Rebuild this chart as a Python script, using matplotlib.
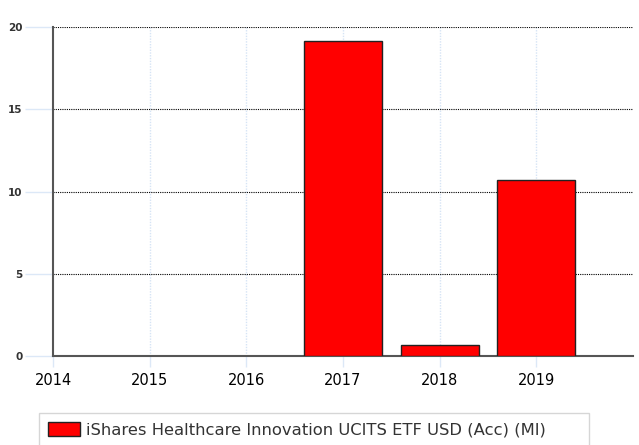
import numpy as np
import matplotlib.pyplot as plt
from matplotlib.patches import Patch

years = [2014, 2015, 2016, 2017, 2018, 2019]
values = [0, 0, 0, 19.17, 0.69, 10.68]
series_name = "iShares Healthcare Innovation UCITS ETF USD (Acc) (MI)"

fig = plt.figure(figsize=(6.39, 4.45), dpi=100)
ax = fig.add_axes([53 / 639, 1 - 356 / 445, 580 / 639, 329 / 445])

bar_years = [y for y, v in zip(years, values) if v > 0]
bar_vals = [v for v in values if v > 0]
ax.bar(bar_years, bar_vals, width=0.81, color="#ff0000", edgecolor="#222222",
       linewidth=1.0, zorder=3)

ax.set_xlim(2014, 2020)
ax.set_ylim(0, 20)
ax.set_xticks(years)
ax.set_xticklabels([str(y) for y in years], fontsize=10.5)
ax.set_yticks([0, 5, 10, 15, 20])
ax.set_yticklabels(["0", "5", "10", "15", "20"], fontsize=7.5, fontweight="bold",
                   color="#333333")

for y in [5, 10, 15, 20]:
    ax.axhline(y, color="black", linestyle=(0, (1, 1)), linewidth=0.8, zorder=1)
for x in years[1:]:
    ax.axvline(x, color="#d6e4f5", linestyle=(0, (1, 1)), linewidth=1.0, zorder=0)

ax.tick_params(axis="y", length=20, color="#dce8f7", width=1, pad=2)
ax.tick_params(axis="x", length=8, color="#dce8f7", width=1, pad=4)
for s in ["top", "right"]:
    ax.spines[s].set_visible(False)
for s in ["left", "bottom"]:
    ax.spines[s].set_color("#555555")
    ax.spines[s].set_linewidth(1.5)

handle = Patch(facecolor="#ff0000", edgecolor="#222222", label=series_name)
leg = fig.legend(handles=[handle], loc="upper left", mode="expand",
                 bbox_to_anchor=(39 / 639, 1 - 413 / 445 - 0.1, 550 / 639, 0.1),
                 fontsize=11.8, frameon=True, fancybox=False,
                 handlelength=1.95, handleheight=0.95,
                 borderpad=0.55, handletextpad=0.35, borderaxespad=0,
                 labelcolor="#333333")
leg.get_frame().set_edgecolor("#cccccc")
leg.get_frame().set_linewidth(1.0)

fig.savefig("out.png", dpi=100)
